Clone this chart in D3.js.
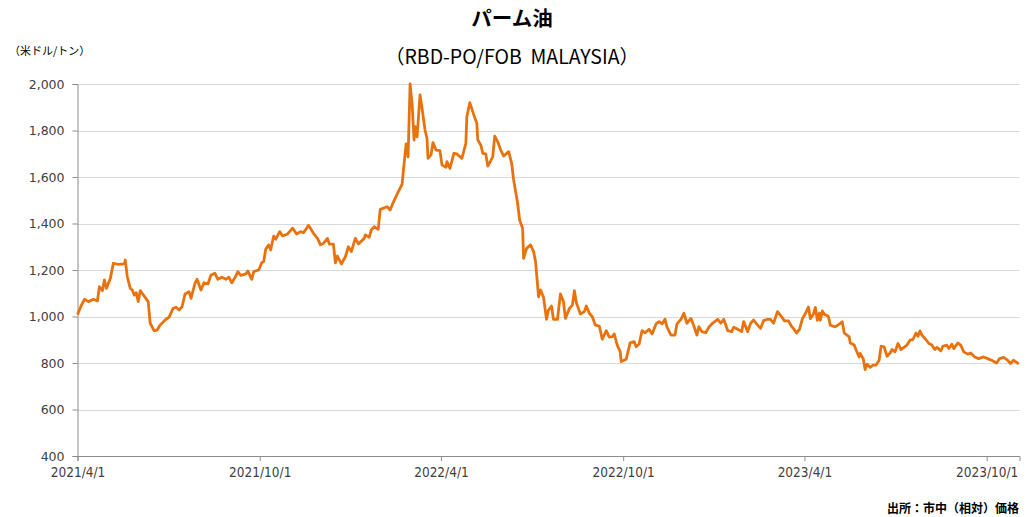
<!DOCTYPE html>
<html>
<head>
<meta charset="utf-8">
<script src="https://cdn.jsdelivr.net/npm/d3@7"></script>
<style>
  html, body { margin: 0; padding: 0; background: #fff; }
  svg { display: block; }
</style>
</head>
<body>
<div id="chart"></div>
<script>
// パーム油 (RBD-PO/FOB MALAYSIA) price line

const dates2021 = ['04-01','04-04','04-08','04-12','04-17','04-21','04-23','04-26','04-28','04-30',
  '05-04','05-07','05-12','05-18','05-19','05-21','05-24','05-26','05-28','05-30',
  '06-01','06-03','06-07','06-11','06-13','06-17','06-20','06-23','06-28','07-02',
  '07-06','07-09','07-12','07-15','07-18','07-22','07-24','07-28','07-30','08-03',
  '08-06','08-10','08-13','08-17','08-20','08-24','08-28','08-31','09-03','09-07',
  '09-09','09-12','09-17','09-19','09-23','09-25','09-30','10-03','10-05','10-07',
  '10-10','10-12','10-15','10-17','10-21','10-24','10-29','11-03','11-07','11-11',
  '11-14','11-19','11-24','11-28','12-01','12-04','12-08','12-10','12-14','12-16',
  '12-18','12-22','12-26','12-29'];
const prices2021 = [1008,1040,1074,1064,1074,1067,1128,1111,1157,1121,
  1164,1229,1224,1226,1243,1171,1121,1114,1092,1102,
  1064,1111,1088,1064,971,938,942,963,985,997,
  1035,1040,1028,1042,1097,1107,1078,1143,1160,1114,
  1145,1140,1178,1186,1160,1169,1160,1169,1145,1174,
  1193,1177,1183,1196,1160,1193,1200,1231,1236,1289,
  1308,1286,1346,1332,1365,1346,1355,1380,1355,1365,
  1360,1392,1358,1336,1308,1315,1336,1311,1311,1231,
  1260,1226,1257,1300];

const dates2022 = ['01-01','01-05','01-08','01-14','01-15','01-19','01-21','01-24','01-28','01-30',
  '02-06','02-09','02-11','02-14','02-18','02-21','02-23','02-25','02-27','03-01',
  '03-03','03-05','03-06','03-08','03-11','03-13','03-16','03-18','03-19','03-22',
  '03-24','03-27','03-31','04-02','04-06','04-07','04-10','04-14','04-17','04-22',
  '04-26','04-27','04-30','05-04','05-07','05-08','05-11','05-13','05-16','05-18',
  '05-21','05-23','05-25','05-28','05-31','06-03','06-08','06-11','06-13','06-17',
  '06-19','06-22','06-23','06-26','06-30','07-03','07-05','07-08','07-10','07-13',
  '07-16','07-18','07-21','07-23','07-27','07-30','08-02','08-04','08-08','08-11',
  '08-13','08-15','08-19','08-23','08-25','08-28','08-31','09-03','09-07','09-10',
  '09-14','09-17','09-20','09-22','09-25','09-28','09-29','10-04','10-08','10-12',
  '10-14','10-17','10-20','10-23','10-27','10-30','11-03','11-06','11-09','11-12',
  '11-14','11-18','11-22','11-24','11-28','12-01','12-04','12-08','12-11','12-14',
  '12-16','12-19','12-23','12-26','12-29'];
const prices2022 = [1279,1336,1312,1336,1351,1341,1372,1386,1375,1461,
  1472,1458,1480,1508,1544,1569,1659,1742,1687,2000,
  1917,1759,1817,1773,1953,1896,1802,1766,1680,1695,
  1748,1716,1713,1652,1642,1666,1637,1702,1699,1680,
  1745,1859,1920,1867,1831,1759,1738,1702,1699,1647,
  1670,1687,1776,1752,1716,1690,1709,1659,1587,1487,
  1415,1380,1250,1293,1308,1279,1236,1085,1114,1083,
  988,1028,1045,988,988,1097,1064,992,1035,1049,
  1111,1059,1011,1021,1045,1014,999,963,959,902,
  939,911,913,925,877,849,806,816,887,892,
  870,882,939,930,945,925,968,978,968,988,
  954,920,920,968,988,1014,971,992,959,920,
  956,935,930,954,968];

const dates2023 = ['01-04','01-07','01-10','01-14','01-18','01-20','01-24','01-28','01-30','02-03',
  '02-06','02-09','02-13','02-16','02-19','02-23','02-26','03-01','03-05','03-08',
  '03-12','03-16','03-19','03-21','03-24','03-27','03-30','04-02','04-05','04-07',
  '04-10','04-12','04-14','04-16','04-17','04-19','04-21','04-25','04-27','05-02',
  '05-07','05-09','05-11','05-16','05-17','05-21','05-23','05-26','05-27','05-30',
  '06-01','06-03','06-06','06-09','06-12','06-15','06-17','06-20','06-23','06-26',
  '06-28','07-01','07-04','07-07','07-10','07-13','07-16','07-19','07-22','07-24',
  '07-26','07-28','08-01','08-04','08-07','08-10','08-12','08-16','08-18','08-22',
  '08-24','08-27','08-29','09-02','09-05','09-08','09-12','09-15','09-19','09-23',
  '09-28','10-02','10-06','10-11','10-14','10-18','10-22','10-25','10-28','11-01',
  '11-02'];
const prices2023 = [988,971,988,939,935,954,945,935,978,935,
  971,985,963,949,982,988,988,971,1021,1005,
  981,981,958,948,929,944,991,1013,1041,991,
  1010,1039,984,1015,984,1024,1010,1001,963,955,
  970,977,929,912,886,877,855,826,841,819,
  772,795,781,791,791,812,872,869,829,843,
  858,848,884,858,867,877,898,901,929,915,
  938,920,901,884,877,858,867,852,872,877,
  862,881,862,886,877,848,838,843,826,819,
  826,819,812,800,819,824,812,798,812,800,
  795];

const xTicks = ['2021-04-01','2021-10-01','2022-04-01','2022-10-01','2023-04-01','2023-10-01'];
const yTicks = [400, 600, 800, 1000, 1200, 1400, 1600, 1800, 2000];
const xStart = '2021-04-01';
const xEnd = '2023-11-03';

const titleText = 'パーム油';
const subtitleText = '（RBD-PO/FOB\u00a0\u00a0MALAYSIA）';
const unitText = '（米ドル/トン）';
const sourceText = '出所：市中（相対）価格';

const parse = d3.timeParse('%Y-%m-%d');
const fmtX = d3.timeFormat('%Y/%-m/%-d');
const fmtY = d3.format(',');

function buildSeries() {
    const out = [];
    [[2021, dates2021, prices2021], [2022, dates2022, prices2022], [2023, dates2023, prices2023]]
        .forEach(([yr, ds, ps]) => {
            ds.forEach((d, i) => out.push({ date: parse(yr + '-' + d), value: ps[i] }));
        });
    return out;
}
const data = buildSeries();

const W = 1027, H = 517;
const M = { top: 84, right: 7.5, bottom: 61, left: 77.5 };
const iW = W - M.left - M.right;
const iH = H - M.top - M.bottom;

const svg = d3.select('#chart').append('svg')
    .attr('width', W).attr('height', H);

const g = svg.append('g').attr('transform', `translate(${M.left},${M.top})`);

const x = d3.scaleTime().domain([parse(xStart), parse(xEnd)]).range([0, iW]);
const y = d3.scaleLinear().domain([400, 2000]).range([iH, 0]);

// Grid
g.append('g')
    .selectAll('line')
    .data(yTicks.filter(v => v > 400)).enter().append('line')
    .attr('x1', 0).attr('x2', iW)
    .attr('y1', d => Math.round(y(d)) + 0.5).attr('y2', d => Math.round(y(d)) + 0.5)
    .attr('stroke', '#d9d9d9').attr('stroke-width', 1);

// Axes
const yAxis = g.append('g')
    .call(d3.axisLeft(y).tickValues(yTicks).tickFormat(fmtY).tickSize(5).tickPadding(8));
yAxis.select('.domain').attr('stroke', '#8c8c8c');
yAxis.selectAll('.tick line').attr('stroke', '#8c8c8c');
yAxis.selectAll('text')
    .attr('fill', '#404040').attr('font-size', 12.5)
    .attr('font-family', '"DejaVu Sans", Verdana, sans-serif');

const xAxis = g.append('g').attr('transform', `translate(0,${iH})`)
    .call(d3.axisBottom(x).tickValues(xTicks.map(parse)).tickFormat(fmtX).tickSize(5).tickPadding(6));
xAxis.select('.domain').attr('stroke', '#8c8c8c');
xAxis.selectAll('.tick line').attr('stroke', '#8c8c8c');
xAxis.selectAll('text')
    .attr('fill', '#404040').attr('font-size', 13.5)
    .attr('font-family', '"DejaVu Sans Condensed", "DejaVu Sans", sans-serif');

// Line
const line = d3.line().x(d => x(d.date)).y(d => y(d.value));
g.append('path').datum(data)
    .attr('d', line)
    .attr('fill', 'none')
    .attr('stroke', '#e8730e')
    .attr('stroke-width', 2.8)
    .attr('stroke-linejoin', 'round');

// Titles
const jp = '"Noto Sans CJK JP", "Noto Sans", sans-serif';
svg.append('text').attr('x', 512).attr('y', 26)
    .attr('text-anchor', 'middle').attr('font-family', jp)
    .attr('font-weight', 'bold').attr('font-size', 20.5).attr('fill', '#000')
    .text(titleText);
svg.append('text').attr('x', 512).attr('y', 64)
    .attr('text-anchor', 'middle').attr('font-family', jp)
    .attr('font-size', 19.5).attr('fill', '#000')
    .text(subtitleText);
svg.append('text').attr('x', 9).attr('y', 55)
    .attr('font-family', jp).attr('font-size', 11).attr('fill', '#000')
    .text(unitText);
svg.append('text').attr('x', 1019).attr('y', 513)
    .attr('text-anchor', 'end').attr('font-family', jp)
    .attr('font-weight', 'bold').attr('font-size', 12).attr('fill', '#000')
    .text(sourceText);
</script>
</body>
</html>
